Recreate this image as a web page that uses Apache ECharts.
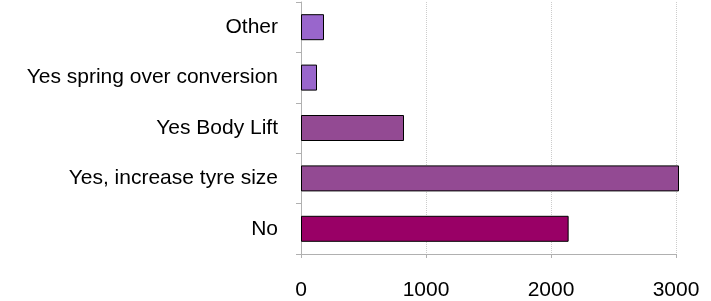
<!DOCTYPE html>
<html>
<head>
    <meta charset="utf-8">
    <title>ECharts</title>
    <script src="https://cdn.jsdelivr.net/npm/echarts@6/dist/echarts.min.js"></script>
    <style>
        html, body { margin: 0; padding: 0; background: #fff; }
    </style>
</head>
<body>
<div id="main" style="width: 711px;height:301px;"></div>
<script type="text/javascript">
    // data, bottom to top
    var categories = ['No', 'Yes, increase tyre size', 'Yes Body Lift', 'Yes spring over conversion', 'Other'];
    var counts = [2141, 3024, 824, 128, 184];
    var barColors = ['#990066', '#934a93', '#934a93', '#9966cc', '#9966cc'];
    var xTicks = [0, 1000, 2000, 3000];

    var myChart = echarts.init(document.getElementById('main'));

    myChart.setOption({
        animation: false,
        grid: { left: 301, right: 35, top: 2, bottom: 47 },
        xAxis: {
            type: 'value',
            min: xTicks[0],
            max: xTicks[xTicks.length - 1],
            interval: 1000,
            axisLine: { show: true, lineStyle: { color: '#b0b0b0', width: 1 } },
            axisTick: { show: true, length: 4, lineStyle: { color: '#b0b0b0' } },
            axisLabel: {
                color: '#000', fontSize: 21, fontFamily: 'Liberation Sans, Arial', margin: 26,
                formatter: function (v) { return String(v); }
            },
            splitLine: { show: true, lineStyle: { color: '#cccccc', type: 'dotted' } }
        },
        yAxis: {
            type: 'category',
            data: categories,
            axisLine: { show: true, lineStyle: { color: '#b0b0b0', width: 1 } },
            axisTick: { show: true, length: 5, lineStyle: { color: '#b0b0b0' } },
            axisLabel: { color: '#000', fontSize: 21, fontFamily: 'Liberation Sans, Arial', margin: 23 }
        },
        series: [{
            type: 'bar',
            clip: false,
            barWidth: 26,
            data: counts.map(function (v, i) {
                return { value: v, itemStyle: { color: barColors[i] } };
            }),
            itemStyle: { borderColor: '#000', borderWidth: 1 }
        }]
    });
</script>
</body>
</html>
